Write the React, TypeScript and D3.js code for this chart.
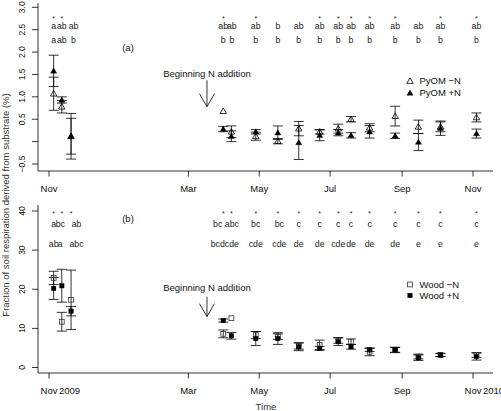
import React from "react";
import * as d3 from "d3";

const sampleDates = [
  "2009-11-05", "2009-11-12", "2009-11-20", "2010-03-31", "2010-04-07", "2010-04-28",
  "2010-05-17", "2010-06-04", "2010-06-22", "2010-07-08", "2010-07-19", "2010-08-04",
  "2010-08-26", "2010-09-15", "2010-10-04", "2010-11-04",
];

const pyomMinusN = [1.07, 0.78, 0.12, 0.68, 0.22, 0.12, 0.01, 0.29, 0.22, 0.29, 0.5, 0.31, 0.57, 0.33, 0.33, 0.54];
const pyomMinusNSE = [0.37, 0.14, 0.4, 0, 0.13, 0.09, 0.06, 0.16, 0.05, 0.1, 0.06, 0.09, 0.22, 0.15, 0.11, 0.1];
const pyomPlusN = [1.58, 0.93, 0.12, 0.28, 0.12, 0.22, 0.2, -0.02, 0.14, 0.2, 0.14, 0.22, 0.13, -0.01, 0.3, 0.18];
const pyomPlusNSE = [0.35, 0.07, 0.51, 0.06, 0.12, 0.05, 0.15, 0.38, 0.12, 0.07, 0.06, 0.14, 0.06, 0.19, 0.16, 0.1];

const woodMinusN = [22.9, 11.7, 17.3, 8.6, 12.6, 8.3, 7.9, 5.5, 5.8, 6.9, 6.6, 4.0, 4.5, 2.8, 3.2, 3.2];
const woodMinusNSE = [1.7, 2.4, 7.6, 1.0, 0, 0.9, 0.7, 0.8, 1.2, 0.7, 0.7, 1.0, 0.7, 0.6, 0.4, 0.6];
const woodPlusN = [20.2, 20.9, 14.4, 12.0, 8.1, 7.4, 7.4, 5.3, 4.9, 6.6, 5.3, 4.5, 4.5, 2.5, 3.2, 2.8];
const woodPlusNSE = [2.8, 4.2, 1.2, 0.4, 0.85, 1.8, 1.5, 1.0, 0.5, 1.0, 0.6, 0.4, 0.6, 0.7, 0.4, 0.9];

const pyomUpper = ["a", "ab", "ab", "ab", "ab", "ab", "b", "ab", "ab", "ab", "ab", "ab", "ab", "ab", "ab", "ab"];
const pyomLower = ["a", "ab", "b", "b", "b", "b", "b", "b", "b", "b", "b", "b", "b", "b", "b", "b"];
const pyomStar = [1, 1, 0, 1, 0, 1, 0, 0, 1, 1, 1, 1, 1, 0, 1, 1];

const woodUpper = ["a", "bc", "ab", "bc", "abc", "bc", "bc", "c", "c", "c", "c", "c", "c", "c", "c", "c"];
const woodLower = ["ab", "a", "abc", "bcd", "cde", "cde", "cde", "de", "de", "cde", "de", "de", "de", "e", "e", "e"];
const woodStar = [1, 1, 1, 1, 1, 1, 1, 1, 1, 1, 1, 1, 1, 1, 1, 1];

const xTickDates = ["2009-11-01", "2010-03-01", "2010-05-01", "2010-07-01", "2010-09-01", "2010-11-01"];
const xTickLabels = ["Nov", "Mar", "May", "Jul", "Sep", "Nov"];

const pyomTicks = [-0.5, 0, 0.5, 1.0, 1.5, 2.0, 2.5, 3.0];
const pyomTickLabels = ["\u22120.5", "", "0.5", "1.0", "1.5", "2.0", "2.5", "3.0"];
const woodTicks = [0, 10, 20, 30, 40];
const woodTickLabels = ["0", "10", "20", "30", "40"];

const nAdditionDate = "2010-03-17";

// layout nudges (px) for crowded letter labels
const nudgeA = [0, 0, 2.5, 0, 0.5, 0, 0, 0, 0, 0, 0, 0, 0, 0, 0, 0];
const nudgeB = [0, -1.5, 5.5, -5.5, 0.5, 0, 1.5, 0, 0, 0, 0, 0, 0, 0, 0, 0];

const parse = d3.timeParse("%Y-%m-%d")!;
const FONT = "Liberation Sans, Arial, Helvetica, sans-serif";

const x = d3
  .scaleTime()
  .domain([parse("2009-11-01")!, parse("2010-11-01")!])
  .range([49, 473]);

const LEFT = 38;
const RIGHT = 493;

type PanelProps = {
  top: number;
  bottom: number;
  y: d3.ScaleLinear<number, number>;
  ticks: number[];
  tickLabels: string[];
  minus: number[];
  minusSE: number[];
  plus: number[];
  plusSE: number[];
  upper: string[];
  lower: string[];
  star: number[];
  nudge: number[];
  starV: number;
  upperV: number;
  lowerV: number;
  tag: string;
  tagV: number;
  marker: "tri" | "sq";
  legendMinus: string;
  legendPlus: string;
  legendY1: number;
  legendY2: number;
  arrowTextV: number;
  arrowTopV: number;
  arrowBotV: number;
  yearLabels: boolean;
};

function Marker({ kind, cx, cy, filled }: { kind: "tri" | "sq"; cx: number; cy: number; filled: boolean }) {
  if (kind === "tri") {
    const p = d3.symbol(d3.symbolTriangle, filled ? 16 : 18)()!;
    return (
      <path
        d={p}
        transform={`translate(${cx},${cy + 0.5})`}
        fill={filled ? "#000" : "none"}
        stroke="#000"
        strokeWidth={filled ? 0.4 : 0.8}
      />
    );
  }
  const s = filled ? 4.6 : 4.8;
  return (
    <rect
      x={cx - s / 2}
      y={cy - s / 2}
      width={s}
      height={s}
      fill={filled ? "#000" : "none"}
      stroke={filled ? "#000" : "#333"}
      strokeWidth={filled ? 0.3 : 0.8}
    />
  );
}

function Panel(p: PanelProps) {
  const dates = sampleDates.map((d) => parse(d)!);
  const ax = x(parse(nAdditionDate)!);
  const cap = 5;
  const bar = (vals: number[], se: number[], key: string) =>
    vals.map((v, i) => {
      if (!se[i]) return null;
      const cx = x(dates[i]);
      const y1 = p.y(v + se[i]);
      const y2 = p.y(v - se[i]);
      return (
        <g key={key + i} stroke="#000" strokeWidth={0.8}>
          <line x1={cx} x2={cx} y1={y1} y2={y2} />
          <line x1={cx - cap} x2={cx + cap} y1={y1} y2={y1} />
          <line x1={cx - cap} x2={cx + cap} y1={y2} y2={y2} />
        </g>
      );
    });
  const aTop = p.y(p.arrowTopV);
  const aBot = p.y(p.arrowBotV);
  return (
    <g fontFamily={FONT}>
      {/* axes */}
      <line x1={LEFT} x2={LEFT} y1={p.top} y2={p.bottom} stroke="#000" strokeWidth={0.8} />
      <line x1={LEFT} x2={RIGHT} y1={p.bottom} y2={p.bottom} stroke="#000" strokeWidth={0.8} />
      {p.ticks.map((t, i) => (
        <g key={"yt" + i}>
          <line x1={LEFT - 6} x2={LEFT} y1={p.y(t)} y2={p.y(t)} stroke="#000" strokeWidth={0.8} />
          {p.tickLabels[i] && (
            <text
              transform={`translate(${25},${p.y(t)}) rotate(-90)`}
              textAnchor="middle"
              fontSize={8.5}
              fill="#111"
            >
              {p.tickLabels[i]}
            </text>
          )}
        </g>
      ))}
      {xTickDates.map((d, i) => {
        const tx = x(parse(d)!);
        return (
          <g key={"xt" + i}>
            <line x1={tx} x2={tx} y1={p.bottom} y2={p.bottom + 5.5} stroke="#000" strokeWidth={0.8} />
            <text x={tx} y={p.bottom + 20.5} textAnchor="middle" fontSize={9.5} fill="#111">
              {xTickLabels[i]}
            </text>
          </g>
        );
      })}
      {p.yearLabels && (
        <>
          <text x={x(parse(xTickDates[0])!) + 10} y={p.bottom + 20.5} fontSize={9.5} fill="#111">
            2009
          </text>
          <text x={x(parse(xTickDates[5])!) + 10} y={p.bottom + 20.5} fontSize={9.5} fill="#111">
            2010
          </text>
        </>
      )}
      {/* error bars */}
      {bar(p.minus, p.minusSE, "m")}
      {bar(p.plus, p.plusSE, "p")}
      {/* markers */}
      {p.minus.map((v, i) => (
        <Marker key={"mm" + i} kind={p.marker} cx={x(dates[i])} cy={p.y(v)} filled={false} />
      ))}
      {p.plus.map((v, i) => (
        <Marker key={"pm" + i} kind={p.marker} cx={x(dates[i])} cy={p.y(v)} filled={true} />
      ))}
      {/* letters */}
      {p.star.map((s, i) =>
        s ? (
          <text key={"s" + i} x={x(dates[i])} y={p.y(p.starV) + 4.5} textAnchor="middle" fontSize={7} fill="#222">
            *
          </text>
        ) : null
      )}
      {p.upper.map((t, i) => (
        <text
          key={"u" + i}
          x={x(dates[i]) + p.nudge[i]}
          y={p.y(p.upperV) + 3.3}
          textAnchor="middle"
          fontSize={8.8}
          fill="#222"
        >
          {t}
        </text>
      ))}
      {p.lower.map((t, i) => (
        <text
          key={"l" + i}
          x={x(dates[i]) + p.nudge[i]}
          y={p.y(p.lowerV) + 3.3}
          textAnchor="middle"
          fontSize={8.8}
          fill="#222"
        >
          {t}
        </text>
      ))}
      <text x={128} y={p.y(p.tagV) + 3.3} textAnchor="middle" fontSize={9.5} fill="#111">
        {p.tag}
      </text>
      {/* N addition arrow */}
      <text x={ax} y={p.y(p.arrowTextV) + 3.3} textAnchor="middle" fontSize={9.5} fill="#111">
        Beginning N addition
      </text>
      <g stroke="#000" strokeWidth={0.8} fill="none">
        <line x1={ax} x2={ax} y1={aTop} y2={aBot} />
        <polyline points={`${ax - 7.5},${aBot - 13} ${ax},${aBot} ${ax + 7.5},${aBot - 13}`} />
      </g>
      {/* legend */}
      <Marker kind={p.marker} cx={410} cy={p.legendY1} filled={false} />
      <Marker kind={p.marker} cx={410} cy={p.legendY2} filled={true} />
      <text x={419.5} y={p.legendY1 + 3.3} fontSize={9.5} fill="#111">
        {p.legendMinus}
      </text>
      <text x={419.5} y={p.legendY2 + 3.3} fontSize={9.5} fill="#111">
        {p.legendPlus}
      </text>
    </g>
  );
}

export default function App() {
  const yA = d3.scaleLinear().domain([-0.5, 3.0]).range([164, 7.3]);
  const yB = d3.scaleLinear().domain([0, 40]).range([367.5, 211]);
  return (
    <svg
      width={501}
      height={411}
      viewBox="0 0 501 411"
      style={{ position: "absolute", left: 0, top: 0, background: "#fff" }}
    >
      <rect x={0} y={0} width={501} height={411} fill="#fff" />
      <Panel
        top={3}
        bottom={171}
        y={yA}
        ticks={pyomTicks}
        tickLabels={pyomTickLabels}
        minus={pyomMinusN}
        minusSE={pyomMinusNSE}
        plus={pyomPlusN}
        plusSE={pyomPlusNSE}
        upper={pyomUpper}
        lower={pyomLower}
        star={pyomStar}
        nudge={nudgeA}
        starV={2.8}
        upperV={2.58}
        lowerV={2.27}
        tag="(a)"
        tagV={2.09}
        marker="tri"
        legendMinus={"PyOM \u2212N"}
        legendPlus="PyOM +N"
        legendY1={81}
        legendY2={93}
        arrowTextV={1.51}
        arrowTopV={1.37}
        arrowBotV={0.78}
        yearLabels={false}
      />
      <Panel
        top={205}
        bottom={373}
        y={yB}
        ticks={woodTicks}
        tickLabels={woodTickLabels}
        minus={woodMinusN}
        minusSE={woodMinusNSE}
        plus={woodPlusN}
        plusSE={woodPlusNSE}
        upper={woodUpper}
        lower={woodLower}
        star={woodStar}
        nudge={nudgeB}
        starV={40}
        upperV={36.8}
        lowerV={31.6}
        tag="(b)"
        tagV={38}
        marker="sq"
        legendMinus={"Wood \u2212N"}
        legendPlus="Wood +N"
        legendY1={284.5}
        legendY2={295.5}
        arrowTextV={20.3}
        arrowTopV={18.1}
        arrowBotV={13.0}
        yearLabels={true}
      />
      <text
        transform="translate(8.5,205) rotate(-90)"
        textAnchor="middle"
        fontSize={9.5}
        fontFamily={FONT}
        fill="#333"
      >
        Fraction of soil respiration derived from substrate (%)
      </text>
      <text x={266} y={410} textAnchor="middle" fontSize={9.5} fontFamily={FONT} fill="#333">
        Time
      </text>
    </svg>
  );
}
